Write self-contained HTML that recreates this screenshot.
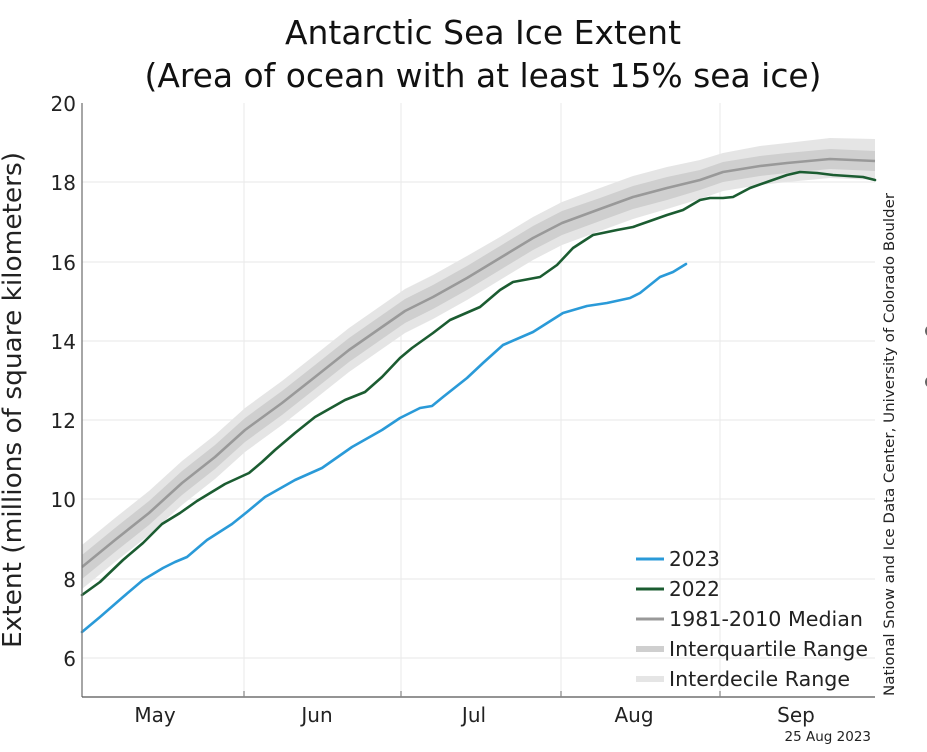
<!DOCTYPE html>
<html><head><meta charset="utf-8"><style>
html,body{margin:0;padding:0;background:#fff;}
svg{display:block;font-family:"DejaVu Sans","Liberation Sans",sans-serif;}
</style></head><body>
<svg width="927" height="752" viewBox="0 0 927 752" xmlns="http://www.w3.org/2000/svg">
<rect width="927" height="752" fill="#fff"/>
<!-- title -->
<text x="483" y="44" font-size="33" text-anchor="middle" textLength="396" lengthAdjust="spacingAndGlyphs" fill="#111">Antarctic Sea Ice Extent</text>
<text x="483" y="87" font-size="33" text-anchor="middle" textLength="677" lengthAdjust="spacingAndGlyphs" fill="#111">(Area of ocean with at least 15% sea ice)</text>
<!-- grid -->
<g stroke="#ececec" stroke-width="1.2">
<line x1="82" y1="182" x2="875" y2="182"/>
<line x1="82" y1="262" x2="875" y2="262"/>
<line x1="82" y1="341" x2="875" y2="341"/>
<line x1="82" y1="420" x2="875" y2="420"/>
<line x1="82" y1="499" x2="875" y2="499"/>
<line x1="82" y1="579" x2="875" y2="579"/>
<line x1="82" y1="658" x2="875" y2="658"/>
<line x1="244" y1="103" x2="244" y2="697"/>
<line x1="401" y1="103" x2="401" y2="697"/>
<line x1="561" y1="103" x2="561" y2="697"/>
<line x1="720" y1="103" x2="720" y2="697"/>
</g>
<!-- interdecile -->
<polygon fill="#e5e5e5" points="82,545 115,518 149,491 182,461 215,435 245,408 282,381 315,355 349,328 382,305 405,289 433,275 467,256 500,237 533,217 562,202 600,188 633,176 667,167 700,160 723,153 760,146 787,143 830,138 875,139 875,180 830,178 787,182 760,185 723,191 700,199 667,209 633,219 600,231 562,245 533,260 500,280 467,300 433,319 405,333 382,349 349,372 315,399 282,425 245,452 215,479 182,505 149,535 115,562 82,589"/>
<!-- interquartile -->
<polygon fill="#cfcfcf" points="82,555 115,528 149,501 182,471 215,445 245,418 282,391 315,365 349,338 382,315 405,299 433,285 467,266 500,246 533,226 562,211 600,198 633,186 667,177 700,170 723,162 760,156 787,153 830,149 875,151 875,171 830,169 787,173 760,176 723,182 700,190 667,200 633,209 600,221 562,235 533,250 500,270 467,290 433,309 405,323 382,339 349,362 315,389 282,415 245,442 215,469 182,495 149,525 115,552 82,579"/>
<!-- median -->
<polyline fill="none" stroke="#999" stroke-width="2.6" stroke-linejoin="round" points="82,567 115,540 149,513 182,483 215,457 245,430 282,403 315,377 349,350 382,327 405,311 433,297 467,278 500,258 533,238 562,223 600,209 633,197 667,188 700,180 723,172 760,166 787,163 830,159 875,161"/>
<!-- 2022 -->
<polyline fill="none" stroke="#1b5c31" stroke-width="2.6" stroke-linejoin="round" stroke-linecap="round" points="82,595 100,582 123,560 143,543 162,524 180,513 197,501 225,484 249,473 262,462 275,450 295,433 315,417 345,400 365,392 382,377 400,358 412,348 433,333 450,320 480,307 500,290 513,282 540,277 557,265 573,248 593,235 617,230 633,227 650,221 667,215 683,210 700,200 710,198 723,198 733,197 750,188 767,182 787,175 800,172 817,173 833,175 863,177 875,180"/>
<!-- 2023 -->
<polyline fill="none" stroke="#2a9ad8" stroke-width="2.6" stroke-linejoin="round" stroke-linecap="round" points="82,632 100,617 123,597 143,580 163,568 175,562 187,557 207,540 232,524 247,512 265,497 295,480 322,468 352,447 382,430 400,418 420,408 432,406 443,397 467,378 483,363 503,345 533,332 563,313 587,306 607,303 630,298 640,293 660,277 673,272 686,264"/>
<!-- axes -->
<line x1="82" y1="103" x2="82" y2="697" stroke="#777" stroke-width="1.3"/>
<line x1="82" y1="697" x2="875" y2="697" stroke="#555" stroke-width="1.3"/>
<g stroke="#888" stroke-width="1.2">
<line x1="244" y1="691" x2="244" y2="697"/>
<line x1="401" y1="691" x2="401" y2="697"/>
<line x1="561" y1="691" x2="561" y2="697"/>
<line x1="720" y1="691" x2="720" y2="697"/>
</g>
<!-- y tick labels -->
<g font-size="20" fill="#222" text-anchor="end">
<text x="76" y="111">20</text>
<text x="76" y="190">18</text>
<text x="76" y="270">16</text>
<text x="76" y="349">14</text>
<text x="76" y="428">12</text>
<text x="76" y="507">10</text>
<text x="76" y="587">8</text>
<text x="76" y="666">6</text>
</g>
<!-- x labels -->
<g font-size="20" fill="#222" text-anchor="middle">
<text x="155" y="722">May</text>
<text x="317" y="722">Jun</text>
<text x="474" y="722">Jul</text>
<text x="634" y="722">Aug</text>
<text x="796" y="722">Sep</text>
</g>
<!-- y axis label -->
<text transform="translate(21,400) rotate(-90)" font-size="26" text-anchor="middle" textLength="496" lengthAdjust="spacingAndGlyphs" fill="#222">Extent (millions of square kilometers)</text>
<!-- legend -->
<g stroke-width="3">
<line x1="636" y1="559" x2="664" y2="559" stroke="#2a9ad8"/>
<line x1="636" y1="589" x2="664" y2="589" stroke="#1b5c31"/>
<line x1="636" y1="619" x2="664" y2="619" stroke="#999"/>
<line x1="636" y1="649" x2="664" y2="649" stroke="#cfcfcf" stroke-width="6"/>
<line x1="636" y1="679" x2="664" y2="679" stroke="#e5e5e5" stroke-width="6"/>
</g>
<g font-size="20" fill="#222">
<text x="669" y="566">2023</text>
<text x="669" y="596">2022</text>
<text x="669" y="626" textLength="194" lengthAdjust="spacingAndGlyphs">1981-2010 Median</text>
<text x="669" y="656" textLength="199" lengthAdjust="spacingAndGlyphs">Interquartile Range</text>
<text x="669" y="686" textLength="181" lengthAdjust="spacingAndGlyphs">Interdecile Range</text>
</g>
<!-- credit -->
<text transform="translate(894,696) rotate(-90)" font-size="14.5" textLength="503" lengthAdjust="spacingAndGlyphs" fill="#222">National Snow and Ice Data Center, University of Colorado Boulder</text>
<text x="871" y="741" font-size="13.5" text-anchor="end" fill="#222">25 Aug 2023</text>
<circle cx="931" cy="331" r="6" fill="#666"/>
<circle cx="931" cy="382" r="6" fill="#666"/>
</svg>
</body></html>
